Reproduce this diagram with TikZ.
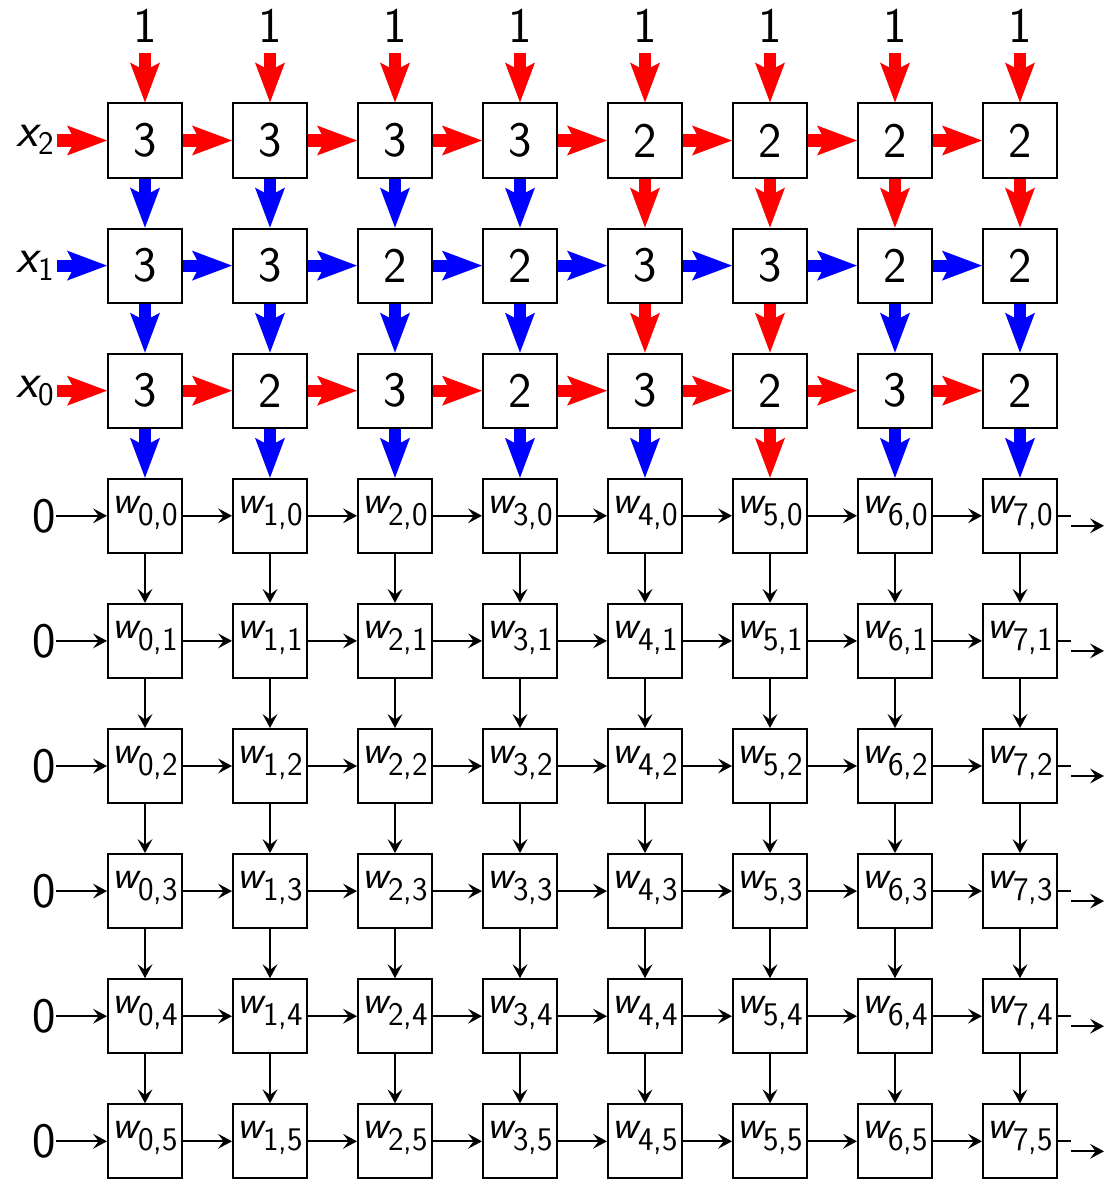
\documentclass[tikz,border=0pt]{standalone}
\usetikzlibrary{arrows.meta}
\definecolor{ared}{RGB}{255,0,0}
\definecolor{ablue}{RGB}{0,0,255}
\newcommand{\wlab}[2]{{\fontsize{20}{23}\selectfont\slshape w}\raisebox{-6pt}{\fontsize{16.5}{20}\selectfont #1,#2}\rule[-11.4pt]{0pt}{11.4pt}}
\newcommand{\xlab}[1]{{\slshape x}\raisebox{-4pt}{\fontsize{16.5}{20}\selectfont #1}}
\begin{document}
\begin{tikzpicture}[x=0.5pt,y=-0.5pt,
  every node/.style={font=\sffamily\fontsize{24.8}{29}\selectfont},
  cell/.style={draw,line width=1pt,minimum size=37pt,inner sep=0pt},
  lab/.style={inner sep=0pt},
  thick arrow/.style={line width=6pt,-{Stealth[length=20pt,width=15pt,inset=4pt,line width=0pt]}},
  thin arrow/.style={line width=1pt,-{Stealth[length=7pt,width=7.5pt,inset=2.8pt,line width=0pt]}},
  thin line/.style={line width=1pt}]
\useasboundingbox (0,0) rectangle (1105,1188);
% top labels
\foreach \i in {0,...,7}
  \node[lab] (one\i) at ({145+125*\i},26) {1};
% upper cells
\foreach \v [count=\i from 0] in {3,3,3,3,2,2,2,2}
  \node[cell] (c\i-0) at ({145+125*\i},140.5) {\v};
\foreach \v [count=\i from 0] in {3,3,2,2,3,3,2,2}
  \node[cell] (c\i-1) at ({145+125*\i},265.6) {\v};
\foreach \v [count=\i from 0] in {3,2,3,2,3,2,3,2}
  \node[cell] (c\i-2) at ({145+125*\i},390.7) {\v};
% w cells
\foreach \i in {0,...,7}{
  \foreach \j in {0,...,5}
    \node[cell] (w\i-\j) at ({145+125*\i},{515.8+125.1*\j}) {\wlab{\i}{\j}};
}
% left labels
\node[lab,anchor=base east] (x2) at (54,147) {\xlab{2}};
\node[lab,anchor=base east] (x1) at (54,272.1) {\xlab{1}};
\node[lab,anchor=base east] (x0) at (54,397.2) {\xlab{0}};
\foreach \j in {0,...,5}
  \node[lab,anchor=east] (z\j) at (56,{515.8+125.1*\j}) {0};
% thick arrows: top inputs
\foreach \i in {0,...,7}
  \draw[thick arrow,color=ared] ([yshift=-5pt]one\i.south) -- (c\i-0);
% thick horizontal arrows
\draw[thick arrow,color=ared,shorten <=1.5pt] (x2.east |- c0-0) -- (c0-0);
\draw[thick arrow,color=ablue,shorten <=1.5pt] (x1.east |- c0-1) -- (c0-1);
\draw[thick arrow,color=ared,shorten <=1.5pt] (x0.east |- c0-2) -- (c0-2);
\foreach \i [evaluate=\i as \k using int(\i+1)] in {0,...,6}{
  \draw[thick arrow,color=ared] (c\i-0) -- (c\k-0);
  \draw[thick arrow,color=ablue] (c\i-1) -- (c\k-1);
  \draw[thick arrow,color=ared] (c\i-2) -- (c\k-2);
}
% thick vertical arrows
\foreach \col [count=\i from 0] in {ablue,ablue,ablue,ablue,ared,ared,ared,ared}
  \draw[thick arrow,color=\col] (c\i-0) -- (c\i-1);
\foreach \col [count=\i from 0] in {ablue,ablue,ablue,ablue,ared,ared,ablue,ablue}
  \draw[thick arrow,color=\col] (c\i-1) -- (c\i-2);
\foreach \col [count=\i from 0] in {ablue,ablue,ablue,ablue,ablue,ared,ablue,ablue}
  \draw[thick arrow,color=\col] (c\i-2) -- (w\i-0);
% thin arrows in the w grid
\foreach \j in {0,...,5}{
  \draw[thin arrow] (z\j) -- (w0-\j);
  \foreach \i [evaluate=\i as \k using int(\i+1)] in {0,...,6}
    \draw[thin arrow] (w\i-\j) -- (w\k-\j);
  \coordinate (s\j) at (1071,{515.8+125.1*\j});
  \coordinate (b\j) at (1071,{525.8+125.1*\j});
  \coordinate (e\j) at (1104,{525.8+125.1*\j});
  \draw[thin line] (w7-\j) -- (s\j);
  \draw[thin arrow] (b\j) -- (e\j);
}
\foreach \i in {0,...,7}{
  \foreach \j [evaluate=\j as \k using int(\j+1)] in {0,...,4}
    \draw[thin arrow] (w\i-\j) -- (w\i-\k);
}
\end{tikzpicture}
\end{document}
